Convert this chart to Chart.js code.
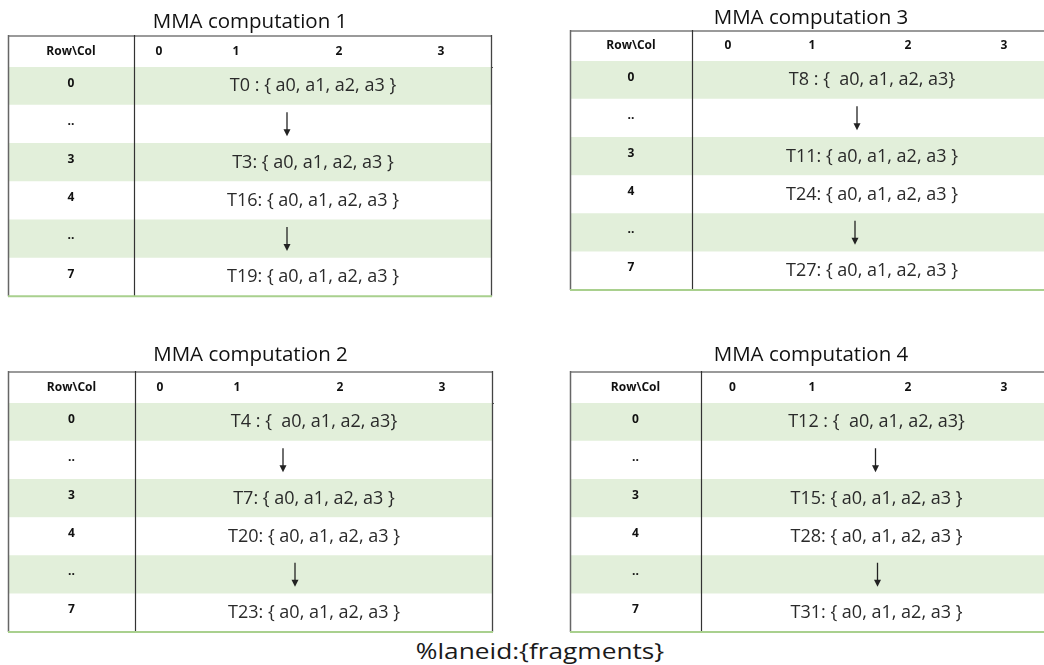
<!DOCTYPE html>
<html>
<head>
<meta charset="utf-8">
<script src="https://cdn.jsdelivr.net/npm/chart.js@4.4.1/dist/chart.umd.min.js"></script>
<style>
  html, body { margin: 0; padding: 0; background: #fff; width: 1044px; height: 665px; overflow: hidden; }
  .tbl { position: absolute; }
  #footer { position: absolute; left: 290px; width: 500px; top: 637px; text-align: center;
            font: 21px "Open Sans", sans-serif; color: #1a1a1a; line-height: 28px;
            transform: scaleX(1.25); transform-origin: 250px 0; }
</style>
</head>
<body>
<div class="tbl" style="left:6px;top:0px"><canvas id="mma1" width="490" height="300"></canvas></div>
<div class="tbl" style="left:568px;top:0px"><canvas id="mma3" width="490" height="294"></canvas></div>
<div class="tbl" style="left:6px;top:330px"><canvas id="mma2" width="490" height="306"></canvas></div>
<div class="tbl" style="left:568px;top:330px"><canvas id="mma4" width="490" height="306"></canvas></div>
<div id="footer"></div>

<script>
// Table contents
const titles = ['MMA computation 1', 'MMA computation 2', 'MMA computation 3', 'MMA computation 4'];
const headerLabels = ['Row\\Col', '0', '1', '2', '3'];
const rowLabels = ['0', '..', '3', '4', '..', '7'];
const ARROW = '↓';
const cells1 = ['T0 : { a0, a1, a2, a3 }', ARROW, 'T3: { a0, a1, a2, a3 }', 'T16: { a0, a1, a2, a3 }', ARROW, 'T19: { a0, a1, a2, a3 }'];
const cells2 = ['T4 : {  a0, a1, a2, a3}', ARROW, 'T7: { a0, a1, a2, a3 }', 'T20: { a0, a1, a2, a3 }', ARROW, 'T23: { a0, a1, a2, a3 }'];
const cells3 = ['T8 : {  a0, a1, a2, a3}', ARROW, 'T11: { a0, a1, a2, a3 }', 'T24: { a0, a1, a2, a3 }', ARROW, 'T27: { a0, a1, a2, a3 }'];
const cells4 = ['T12 : {  a0, a1, a2, a3}', ARROW, 'T15: { a0, a1, a2, a3 }', 'T28: { a0, a1, a2, a3 }', ARROW, 'T31: { a0, a1, a2, a3 }'];
const footerText = '%laneid:{fragments}';

// Layout of each table (column widths in scale units, paddings in px)
const layouts = {
  mma1: { colWidths: [126, 50, 104, 102, 102], header: 32, titlePad: [10.7, 1.75], padRight: 4, padBottom: 3.8, rightBorder: true, arrowShift: [-26, -26] },
  mma2: { colWidths: [127, 50, 104, 102, 102], header: 32, titlePad: [13.7, 4.75], padRight: 3, padBottom: 4, rightBorder: true, arrowShift: [-31, -19] },
  mma3: { colWidths: [122, 72, 96, 96, 96], header: 31, titlePad: [6.7, 0.75], padRight: 6, padBottom: 4, rightBorder: false, arrowShift: [-15, -17] },
  mma4: { colWidths: [131, 63, 96, 96, 96], header: 32, titlePad: [13.7, 4.75], padRight: 6, padBottom: 4, rightBorder: false, arrowShift: [-1, 1] }
};

const GREEN = '#e2efda';
const stripe = (i) => (i % 2 === 0 ? GREEN : '#ffffff');

Chart.defaults.font.family = '"Open Sans", sans-serif';

// Draws cell texts, arrows and the table rules
const tablePlugin = {
  id: 'tableCells',
  afterDatasetsDraw(chart, args, opts) {
    const { ctx, chartArea: a, scales: { x } } = chart;
    const lay = opts.lay;
    const labelMeta = chart.getDatasetMeta(0);
    const cellMeta = chart.getDatasetMeta(1);
    ctx.save();
    ctx.textAlign = 'center';
    ctx.textBaseline = 'middle';

    ctx.fillStyle = '#111';
    ctx.font = 'bold 12px "Open Sans", sans-serif';
    labelMeta.data.forEach((bar, i) => {
      const p = bar.getProps(['x', 'base', 'y'], true);
      ctx.fillText(rowLabels[i], (p.x + p.base) / 2, p.y - 3);
    });

    let arrowIdx = 0;
    ctx.font = '18px "Open Sans", sans-serif';
    cellMeta.data.forEach((bar, i) => {
      const p = bar.getProps(['x', 'base', 'y'], true);
      const cx = (p.x + p.base) / 2;
      const text = opts.cells[i];
      if (text === ARROW) {
        const ax = cx + x.getPixelForValue(lay.arrowShift[arrowIdx++]) - x.getPixelForValue(0);
        ctx.strokeStyle = '#222';
        ctx.lineWidth = 1.3;
        ctx.beginPath();
        ctx.moveTo(ax, p.y - 12);
        ctx.lineTo(ax, p.y + 7);
        ctx.stroke();
        ctx.fillStyle = '#222';
        ctx.beginPath();
        ctx.moveTo(ax - 3.5, p.y + 5);
        ctx.lineTo(ax + 3.5, p.y + 5);
        ctx.lineTo(ax, p.y + 12);
        ctx.closePath();
        ctx.fill();
      } else {
        ctx.fillStyle = '#2a2a2a';
        ctx.fillText(text, cx, p.y);
      }
    });

    const line = (x1, y1, x2, y2, color, w) => {
      ctx.strokeStyle = color;
      ctx.lineWidth = w;
      ctx.beginPath();
      ctx.moveTo(x1, y1);
      ctx.lineTo(x2, y2);
      ctx.stroke();
    };
    const top = x.top;
    const divX = Math.round(x.getPixelForValue(lay.colWidths[0])) + 0.5;
    line(a.left, top + 1, a.right, top + 1, '#9a9a9a', 2);
    line(a.left + 0.5, top, a.left + 0.5, a.bottom, '#666', 1.5);
    line(divX, top, divX, a.bottom, '#333', 1.2);
    if (lay.rightBorder) line(a.right - 0.5, top, a.right - 0.5, a.bottom, '#444', 1.3);
    line(a.left, a.bottom, a.right, a.bottom, '#a9d08e', 2);
    ctx.restore();
  }
};

function makeTable(id, title, cells) {
  const lay = layouts[id];
  const total = lay.colWidths.reduce((s, v) => s + v, 0);
  const rc = lay.colWidths[0];
  // tick positions at the centre of every header cell
  const centers = [];
  let acc = 0;
  lay.colWidths.forEach(w => { centers.push(acc + w / 2); acc += w; });

  new Chart(document.getElementById(id), {
    type: 'bar',
    data: {
      labels: rowLabels,
      datasets: [
        {
          label: 'Row',
          data: rowLabels.map(() => [0, rc]),
          backgroundColor: rowLabels.map((_, i) => stripe(i)),
          grouped: false,
          barPercentage: 1,
          categoryPercentage: 1,
          borderWidth: 0
        },
        {
          label: 'Fragments',
          data: cells.map(() => [rc, total]),
          backgroundColor: cells.map((_, i) => stripe(i)),
          grouped: false,
          barPercentage: 1,
          categoryPercentage: 1,
          borderWidth: 0
        }
      ]
    },
    options: {
      indexAxis: 'y',
      responsive: false,
      animation: false,
      events: [],
      layout: { padding: { left: 2, right: lay.padRight, top: 0, bottom: lay.padBottom } },
      plugins: {
        legend: { display: false },
        tooltip: { enabled: false },
        title: {
          display: true,
          text: title,
          color: '#111',
          font: { size: 20.5, weight: 'normal', lineHeight: 1.1 },
          padding: { top: lay.titlePad[0], bottom: lay.titlePad[1] }
        },
        tableCells: { lay: lay, cells: cells }
      },
      scales: {
        x: {
          type: 'linear',
          position: 'top',
          min: 0,
          max: total,
          grid: { display: false, drawTicks: false },
          border: { display: true, color: '#555', width: 1 },
          afterFit: (s) => { s.height = lay.header; },
          afterBuildTicks: (s) => { s.ticks = centers.map(v => ({ value: v })); },
          ticks: {
            autoSkip: false,
            maxRotation: 0,
            padding: 8,
            color: '#111',
            font: { size: 12, weight: 'bold' },
            callback: (v, i) => headerLabels[i]
          }
        },
        y: {
          type: 'category',
          display: false
        }
      }
    },
    plugins: [tablePlugin]
  });
}

makeTable('mma1', titles[0], cells1);
makeTable('mma2', titles[1], cells2);
makeTable('mma3', titles[2], cells3);
makeTable('mma4', titles[3], cells4);

document.getElementById('footer').textContent = footerText;
</script>
</body>
</html>
